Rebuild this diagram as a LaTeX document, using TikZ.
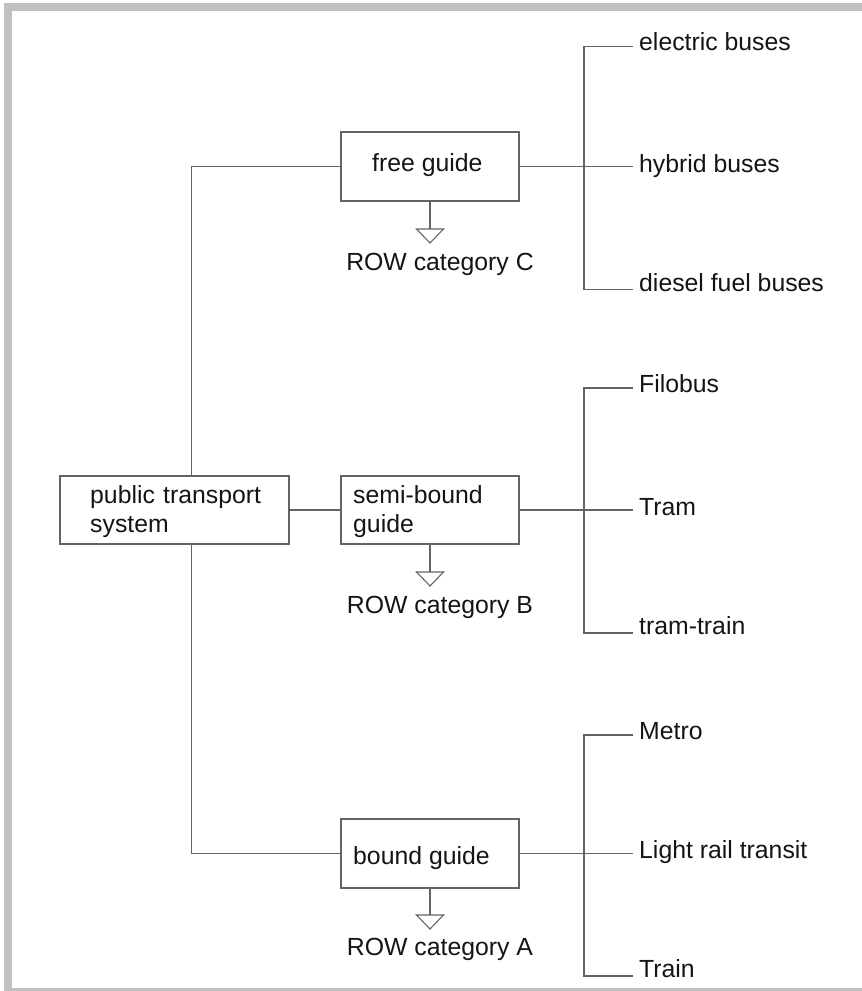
\documentclass[tikz,border=0pt]{standalone}
\usepackage{fontspec}
\setmainfont{Liberation Sans}
\usetikzlibrary{calc}
\definecolor{linegray}{HTML}{646464}
\definecolor{framegray}{HTML}{C0C0C0}
\definecolor{inkblack}{HTML}{141414}
\begin{document}
\begin{tikzpicture}[x=1pt,y=-1pt,
  conn/.style={draw=linegray, line width=1.5pt},
  boxnode/.style={draw=linegray, line width=1.5pt, rectangle, inner sep=0pt, outer sep=0pt,
    anchor=north west, minimum width=178pt, minimum height=69pt},
  txt/.style={anchor=base west, inner sep=0pt, text=inkblack,
    font=\fontsize{24.8}{29}\selectfont},
  mltxt/.style={anchor=north west, inner sep=0pt, text=inkblack, text width=200pt,
    align=left, font=\fontsize{24.8}{29}\selectfont},
  rowtxt/.style={anchor=base, inner sep=0pt, text=inkblack,
    font=\fontsize{24.8}{29}\selectfont},
  tri/.style={draw=linegray, line width=1.1pt, fill=white, line join=miter}
]
\useasboundingbox (0,0) rectangle (862,991);

% outer frame
\fill[framegray] (4,3) rectangle (862,11);
\fill[framegray] (4,3) rectangle (12,991);
\fill[framegray] (4,988) rectangle (862,991);

% boxes
\node[boxnode, minimum width=229pt, minimum height=68pt] (pts) at (60,476) {};
\node[boxnode] (free)  at (341,132) {};
\node[boxnode, minimum height=68pt] (semi)  at (341,476) {};
\node[boxnode] (bound) at (341,819) {};

% box texts
\node[mltxt] (ptsT) at (90,485) {public transport\\system};
\node[txt] (freeT) at (372,171) {free guide};
\node[mltxt] (semiT) at (353,485) {semi-bound\\guide};
\node[txt] (boundT) at (353,864) {bound guide};

% trunk from the system box to the three guide boxes
\coordinate (tTop) at (191.5,166.5);
\coordinate (tBot) at (191.5,853.5);
\draw[conn] (pts.north -| tTop) -- (tTop) -- (free.west);
\draw[conn] (pts.south -| tBot) -- (tBot) -- (bound.west);
\draw[conn] (pts.east) -- (semi.west);

% ROW categories
\foreach \b/\tb/\l/\c in {free/229/270/C, semi/572/613/B, bound/915/955/A}{
  \coordinate (\b Tri) at (\b.south |- 0,\tb);
  \draw[conn] (\b.south) -- (\b Tri);
  \draw[tri] ($(\b Tri)+(-13.5,0)$) -- ($(\b Tri)+(13.5,0)$) -- ($(\b Tri)+(0,14)$) -- cycle;
  \node[rowtxt] (\b Row) at (440,\l) {ROW category \c};
}

% vehicle branches
\foreach \b/\ya/\yc/\ta/\tb/\tc/\ba/\bb/\bc in {
  free/46.5/289.5/electric buses/hybrid buses/diesel fuel buses/50.5/172/291,
  semi/388/633/Filobus/Tram/tram-train/392/515/634,
  bound/735/976/Metro/Light rail transit/Train/739/858/977}{
  \coordinate (\b A) at (633,\ya);
  \coordinate (\b B) at (\b.east -| 633,0);
  \coordinate (\b C) at (633,\yc);
  \draw[conn] (\b A) -- (584,\ya) -- (584,\yc) -- (\b C);
  \draw[conn] (\b.east) -- (\b B);
  \node[txt] (\b TA) at (639,\ba) {\ta};
  \node[txt] (\b TB) at (639,\bb) {\tb};
  \node[txt] (\b TC) at (639,\bc) {\tc};
}
\end{tikzpicture}
\end{document}
